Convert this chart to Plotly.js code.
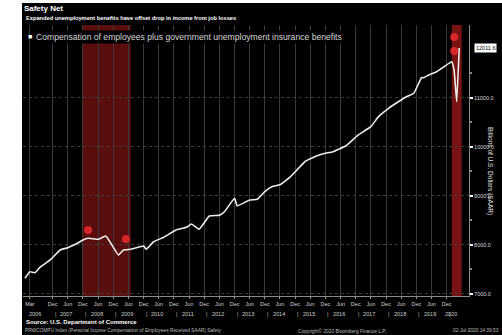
<!DOCTYPE html>
<html>
<head>
<meta charset="utf-8">
<script src="https://cdn.plot.ly/plotly-3.0.1.min.js"></script>
<style>
html,body{margin:0;padding:0;background:#fff;width:502px;height:335px;overflow:hidden;}
#chart{position:absolute;left:22px;top:3px;width:480px;height:332px;}
</style>
</head>
<body>
<div id="chart"></div>
<script>
// ---- data ----
const seriesName = "Compensation of employees plus government unemployment insurance benefits";
const dates = ['2006-01','2006-03','2006-05','2006-07','2006-11','2007-03','2007-06','2007-09','2007-12',
  '2008-02','2008-06','2008-09','2008-11','2009-02','2009-04','2009-07','2009-12','2010-01','2010-04','2010-08',
  '2011-01','2011-05','2011-07','2011-10','2012-02','2012-06','2012-08','2012-12','2013-01','2013-06','2013-09',
  '2013-12','2014-03','2014-06','2014-10','2015-01','2015-04','2015-08','2015-09','2015-12','2016-03','2016-08',
  '2017-01','2017-06','2017-09','2018-01','2018-04','2018-08','2018-11','2019-02','2019-03','2019-05','2019-08',
  '2019-11','2020-02','2020-03','2020-04','2020-05'];
const values = [7321,7454,7434,7544,7693,7896,7943,8012,8100,
  8135,8114,8181,8033,7794,7896,7911,7978,7911,8065,8155,
  8310,8359,8426,8318,8589,8603,8676,8951,8794,8916,8930,
  9088,9190,9225,9381,9544,9700,9800,9820,9867,9900,10016,
  10240,10409,10613,10784,10886,11020,11090,11407,11407,11462,11530,
  11631,11733,11550,10919,12011.6];
const recessionStarts = ['2007-12-01','2020-02-01'];
const recessionEnds = ['2009-06-30','2020-05-31'];
const eventDates = ['2008-02-01','2009-05-01','2020-03-01','2020-03-01'];
const eventValues = [8304,8120,12237,11952];
const yearLabels = ['2006','2007','2008','2009','2010','2011','2012','2013','2014','2015','2016','2017','2018','2019','2020'];
const monthTickLabels = ['Jun','Dec'];
const lastValueText = '12011.6';

// ---- layout helpers (page px -> paper coords) ----
const PX = x => (x - 23) / 446;
const PY = y => 1 - (y - 25) / 271;

// x ticks: Mar 2006 then Jun/Dec each year
const tickvals = ['2006-03-01'], ticktext = ['Mar'];
for (let yr = 2006; yr <= 2019; yr++) {
  if (yr > 2006) { tickvals.push(yr + '-06-01'); ticktext.push(monthTickLabels[0]); }
  tickvals.push(yr + '-12-01'); ticktext.push(monthTickLabels[1]);
}

const traces = [
  {x: dates, y: values, type: 'scatter', mode: 'lines', name: seriesName,
   line: {color: '#ececec', width: 1.6, shape: 'spline', smoothing: 0.3}, hoverinfo: 'skip'},
  {x: eventDates, y: eventValues, type: 'scatter', mode: 'markers', showlegend: false,
   marker: {symbol: 'circle', size: 8, color: 'rgba(235,45,45,0.85)'}, hoverinfo: 'skip'}
];

const shapes = recessionStarts.map((s, i) => ({
  type: 'rect', xref: 'x', yref: 'paper', x0: s, x1: recessionEnds[i], y0: 0, y1: 1,
  fillcolor: i === 0 ? 'rgba(120,18,18,0.75)' : 'rgba(140,22,22,0.85)', line: {width: 0}, layer: 'below'
}));

const ann = [];
const A = o => ann.push(Object.assign({showarrow: false, xref: 'paper', yref: 'paper'}, o));
A({x: PX(24), y: PY(18), xanchor: 'left', yanchor: 'middle',
   text: '<b>Expanded unemployment benefits have offset drop in income from job losses</b>',
   font: {size: 5.7, color: '#fff', family: 'Liberation Sans, Arial'}});
A({x: PX(30), y: PY(37), xanchor: 'center', yanchor: 'middle', text: '■',
   font: {size: 7, color: '#fff'}});
A({x: PX(34), y: PY(37), xanchor: 'left', yanchor: 'middle', text: seriesName,
   bgcolor: '#000', font: {size: 8.6, color: '#d6d6d6', family: 'Liberation Sans, Arial'}});
A({x: PX(490), y: PY(171), xanchor: 'center', yanchor: 'middle', textangle: 90,
   text: 'Billions of U.S. Dollars (SAAR)', font: {size: 6.5, color: '#e0e0e0', family: 'Liberation Sans, Arial'}});
A({x: PX(474), y: values[values.length - 1], yref: 'y', xanchor: 'left', yanchor: 'middle',
   text: lastValueText, bgcolor: '#fff', borderpad: 1, font: {size: 5.5, color: '#000', family: 'Liberation Sans, Arial'}});
yearLabels.forEach((yl, i) => {
  let xd = yl + '-05-15';
  if (yl === '2006') xd = '2006-05-01';
  if (yl === '2020') xd = '2020-01-20';
  A({x: xd, xref: 'x', y: PY(314), xanchor: 'center', yanchor: 'middle', text: yl,
     font: {size: 5.5, color: '#d0d0d0', family: 'Liberation Sans, Arial'}});
  if (i > 0) A({x: yl + '-01-01', xref: 'x', y: PY(314), xanchor: 'center', yanchor: 'middle', text: '|',
     font: {size: 5.5, color: '#bbb', family: 'Liberation Sans, Arial'}});
});
A({x: PX(24), y: PY(322), xanchor: 'left', yanchor: 'middle', text: '<b>Source: U.S. Department of Commerce</b>',
   font: {size: 6, color: '#fff', family: 'Liberation Sans, Arial'}});
A({x: PX(23), y: PY(330.5), xanchor: 'left', yanchor: 'middle',
   text: 'PRWCOMPU Index (Personal Income Compensation of Employees Received SAAR) Safety',
   font: {size: 4.8, color: '#bdbdbd', family: 'Liberation Sans, Arial'}});
A({x: PX(296), y: PY(330.5), xanchor: 'left', yanchor: 'middle',
   text: 'Copyright© 2020 Bloomberg Finance L.P.',
   font: {size: 4.8, color: '#bdbdbd', family: 'Liberation Sans, Arial'}});
A({x: PX(501), y: PY(330.5), xanchor: 'right', yanchor: 'middle',
   text: '02-Jul-2020 14:39:53',
   font: {size: 4.8, color: '#bdbdbd', family: 'Liberation Sans, Arial'}});

const layout = {
  width: 480, height: 332,
  margin: {l: 1, r: 33, t: 22, b: 39, pad: 0},
  paper_bgcolor: '#000', plot_bgcolor: '#000',
  showlegend: false,
  title: {text: '<b>Safety Net</b>', x: 0.004, xanchor: 'left', y: 0.993, yanchor: 'top',
          font: {size: 8, color: '#fff', family: 'Liberation Sans, Arial'}},
  xaxis: {
    type: 'date', range: ['2005-12-08', '2020-08-27'],
    tickvals: tickvals, ticktext: ticktext,
    tickfont: {size: 5.5, color: '#d0d0d0', family: 'Liberation Sans, Arial'},
    ticks: 'outside', ticklen: 2, tickcolor: '#999',
    showgrid: true, gridcolor: '#3a3a3a', gridwidth: 1,
    showline: true, linecolor: '#8a8a8a', linewidth: 1,
    zeroline: false, fixedrange: true
  },
  yaxis: {
    side: 'right', range: [6959, 12481],
    tickvals: [7000, 8000, 9000, 10000, 11000], tickformat: '.1f',
    tickfont: {size: 5.5, color: '#d8d8d8', family: 'Liberation Sans, Arial'},
    ticks: 'outside', ticklen: 3, tickwidth: 2, tickcolor: '#fff',
    minor: {tickvals: [7500, 8500, 9500, 10500, 11500], ticks: 'outside', ticklen: 2, tickcolor: '#888', showgrid: false},
    showgrid: true, gridcolor: '#3c3c3c', griddash: 'dot',
    showline: true, linecolor: '#8a8a8a', linewidth: 1,
    zeroline: false, fixedrange: true
  },
  shapes: shapes,
  annotations: ann
};

Plotly.newPlot('chart', traces, layout, {staticPlot: true, displayModeBar: false});
</script>
</body>
</html>
